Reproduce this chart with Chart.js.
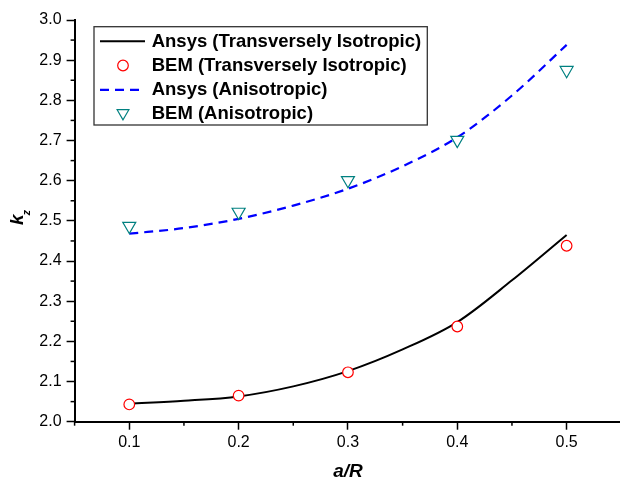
<!DOCTYPE html>
<html>
<head>
<meta charset="utf-8">
<script src="https://cdn.jsdelivr.net/npm/chart.js@4.4.1/dist/chart.umd.min.js"></script>
<style>
  html, body { margin: 0; padding: 0; overflow: hidden; background: #fff; }
  #kzChart { display: block; }
</style>
</head>
<body>
<canvas id="kzChart" width="630" height="482"></canvas>
<script>
// a/R values and stress concentration factor k_z
const ratioAnsys = [0.1, 0.15, 0.2, 0.25, 0.3, 0.35, 0.4, 0.45, 0.5];
const ansysTI = [2.045, 2.052, 2.063, 2.088, 2.126, 2.180, 2.248, 2.352, 2.465];
const ansysAniso = [2.468, 2.482, 2.505, 2.538, 2.580, 2.636, 2.708, 2.812, 2.938];

const ratioBem = [0.1, 0.2, 0.3, 0.4, 0.5];
const bemTI = [2.043, 2.065, 2.123, 2.237, 2.438];
const bemAniso = [2.487, 2.522, 2.601, 2.701, 2.875];

const legendLabels = [
    'Ansys (Transversely Isotropic)',
    'BEM (Transversely Isotropic)',
    'Ansys (Anisotropic)',
    'BEM (Anisotropic)'
];

const FONT = 'Arial, "Liberation Sans", sans-serif';

function toPoints(xs, ys) {
    return xs.map((x, i) => ({ x: x, y: ys[i] }));
}

function isMajor(v) {
    return Math.abs(v * 10 - Math.round(v * 10)) < 1e-6;
}

// short minor ticks, axis titles and the boxed legend
const extras = {
    id: 'extras',
    afterDraw(chart) {
        const c = chart.ctx;
        const area = chart.chartArea;
        const xs = chart.scales.x, ys = chart.scales.y;
        c.save();
        c.strokeStyle = '#000';
        c.lineWidth = 1.5;
        xs.ticks.forEach(t => {
            if (isMajor(t.value)) return;
            const px = xs.getPixelForValue(t.value);
            c.beginPath();
            c.moveTo(px, area.bottom);
            c.lineTo(px, area.bottom + 4);
            c.stroke();
        });
        ys.ticks.forEach(t => {
            if (isMajor(t.value)) return;
            const py = ys.getPixelForValue(t.value);
            c.beginPath();
            c.moveTo(area.left - 4, py);
            c.lineTo(area.left, py);
            c.stroke();
        });

        // x title, centred on the visible part of the axis
        c.fillStyle = '#000';
        c.font = 'italic bold 19px ' + FONT;
        c.textAlign = 'center';
        c.textBaseline = 'alphabetic';
        c.fillText('a/R', (area.left + area.right) / 2, 476.5);

        // y title k_z
        c.save();
        c.translate(23.3, 225);
        c.rotate(-Math.PI / 2);
        c.textAlign = 'left';
        c.font = 'italic bold 19px ' + FONT;
        c.fillText('k', 0, 0);
        const wk = c.measureText('k').width;
        c.font = 'italic bold 11px ' + FONT;
        c.fillText('z', wk - 1, 7);
        c.restore();

        // legend
        const box = { left: 94, top: 26.7, right: 427.3, bottom: 125 };
        c.fillStyle = '#fff';
        c.fillRect(box.left, box.top, box.right - box.left, box.bottom - box.top);
        c.strokeStyle = '#333';
        c.lineWidth = 1.3;
        c.strokeRect(box.left, box.top, box.right - box.left, box.bottom - box.top);

        chart.data.datasets.forEach((ds, i) => {
            const base = 46.5 + i * 24.3;
            const sy = base - 5.3;
            c.save();
            if (ds.showLine) {
                c.strokeStyle = ds.borderColor;
                c.lineWidth = ds.borderWidth;
                c.setLineDash(ds.borderDash || []);
                c.beginPath();
                c.moveTo(100, sy);
                c.lineTo(145, sy);
                c.stroke();
            } else {
                c.strokeStyle = ds.pointBorderColor;
                c.fillStyle = ds.pointBackgroundColor;
                c.lineWidth = ds.pointBorderWidth;
                Chart.helpers.drawPoint(c, {
                    pointStyle: ds.pointStyle,
                    radius: ds.pointStyle === 'triangle' ? 6.8 : ds.pointRadius,
                    rotation: ds.pointRotation || 0,
                    borderWidth: ds.pointBorderWidth
                }, 123, ds.pointStyle === 'triangle' ? sy - 1 : sy);
            }
            c.restore();
            c.fillStyle = '#000';
            c.font = 'bold 18.5px ' + FONT;
            c.textAlign = 'left';
            c.textBaseline = 'alphabetic';
            c.fillText(legendLabels[i], 151.7, base);
        });
        c.restore();
    }
};

const ctx = document.getElementById('kzChart').getContext('2d');

const chart = new Chart(ctx, {
    type: 'scatter',
    data: {
        datasets: [
            {
                label: legendLabels[0],
                data: toPoints(ratioAnsys, ansysTI),
                showLine: true,
                borderColor: '#000',
                borderWidth: 2,
                pointRadius: 0,
                cubicInterpolationMode: 'monotone',
                order: 2
            },
            {
                label: legendLabels[1],
                data: toPoints(ratioBem, bemTI),
                showLine: false,
                pointStyle: 'circle',
                pointRadius: 5.3,
                pointBorderWidth: 1.2,
                pointBorderColor: '#ff0000',
                pointBackgroundColor: '#fff',
                order: 1
            },
            {
                label: legendLabels[2],
                data: toPoints(ratioAnsys, ansysAniso),
                showLine: true,
                borderColor: '#0000ff',
                borderWidth: 2.2,
                borderDash: [9, 6],
                pointRadius: 0,
                cubicInterpolationMode: 'monotone',
                order: 2
            },
            {
                label: legendLabels[3],
                data: toPoints(ratioBem, bemAniso),
                showLine: false,
                pointStyle: 'triangle',
                pointRotation: 180,
                pointRadius: 7.5,
                pointBorderWidth: 1.2,
                pointBorderColor: '#008080',
                pointBackgroundColor: '#fff',
                order: 1
            }
        ]
    },
    options: {
        responsive: false,
        animation: false,
        devicePixelRatio: 1,
        layout: {
            padding: { top: 20, right: 0, bottom: 0, left: 0 }
        },
        plugins: {
            legend: { display: false },
            tooltip: { enabled: false }
        },
        scales: {
            x: {
                type: 'linear',
                min: 0.05,
                max: 0.55,
                afterFit: s => {
                    s.height = 60.3;
                    s.paddingLeft = 0;
                    s.paddingRight = 0;
                },
                border: { color: '#000', width: 2 },
                grid: {
                    drawOnChartArea: false,
                    tickLength: 8,
                    tickWidth: 1.5,
                    tickColor: c => isMajor(c.tick.value) ? '#000' : 'rgba(0,0,0,0)'
                },
                ticks: {
                    stepSize: 0.05,
                    padding: 3,
                    color: '#000',
                    font: { family: FONT, size: 16 },
                    maxRotation: 0,
                    autoSkip: false,
                    callback: v => isMajor(v) && v > 0.07 && v < 0.53 ? v.toFixed(1) : ''
                }
            },
            y: {
                min: 2.0,
                max: 3.0,
                afterFit: s => { s.width = 74.6; },
                border: { color: '#000', width: 2 },
                grid: {
                    drawOnChartArea: false,
                    tickLength: 8,
                    tickWidth: 1.5,
                    tickColor: c => isMajor(c.tick.value) ? '#000' : 'rgba(0,0,0,0)'
                },
                ticks: {
                    stepSize: 0.05,
                    padding: 5,
                    color: '#000',
                    font: { family: FONT, size: 16 },
                    autoSkip: false,
                    callback: v => isMajor(v) ? v.toFixed(1) : ''
                }
            }
        }
    },
    plugins: [extras]
});
</script>
</body>
</html>
